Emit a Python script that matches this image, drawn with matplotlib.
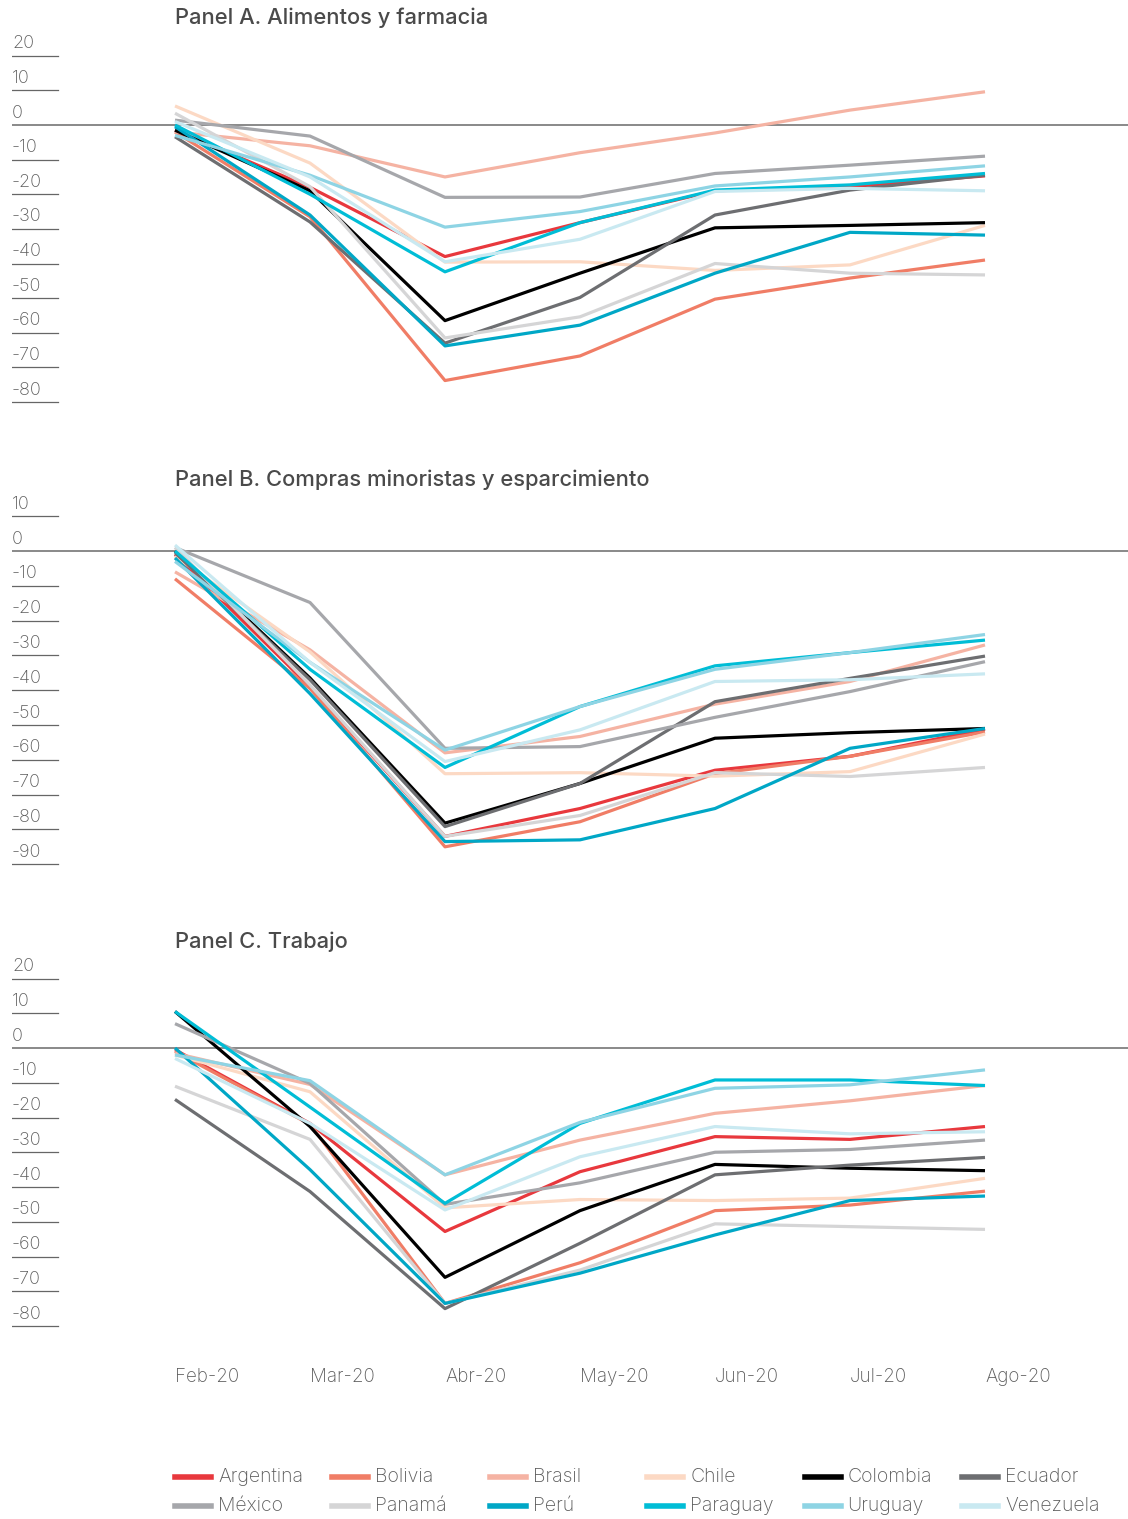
import matplotlib.pyplot as plt
from matplotlib.lines import Line2D

W, H = 1128, 1519

months = ['Feb-20', 'Mar-20', 'Abr-20', 'May-20', 'Jun-20', 'Jul-20', 'Ago-20']
countries = ['Argentina', 'Bolivia', 'Brasil', 'Chile', 'Colombia', 'Ecuador',
             'México', 'Panamá', 'Perú', 'Paraguay', 'Uruguay', 'Venezuela']
colors = ['#E8383D', '#F07D66', '#F5B3A3', '#FCD9C4', '#000000', '#6D6E71',
          '#A6A7AB', '#D5D5D6', '#00A7C6', '#00BDD6', '#8ED4E4', '#C9E9F1']

# Panel A. Alimentos y farmacia
panel_a = {
    'Argentina': [-1.5, -18, -38, -28.2, -19, -17.8, -14.7],
    'Bolivia':   [-2, -26.5, -73.8, -66.7, -50.3, -44.2, -39],
    'Brasil':    [-2, -6, -15, -8, -2.3, 4.3, 9.6],
    'Chile':     [5.5, -11, -39.6, -39.5, -42, -40.4, -29],
    'Colombia':  [-1.5, -19, -56.5, -42.8, -29.7, -29, -28.2],
    'Ecuador':   [-3.4, -28, -63, -49.8, -26, -18.8, -14.5],
    'México':    [1.4, -3.2, -20.9, -20.8, -14, -11.6, -9],
    'Panamá':    [3.4, -17.8, -61.5, -55.4, -40, -42.8, -43.3],
    'Perú':      [-0.5, -26, -63.8, -57.8, -42.8, -31, -31.8],
    'Paraguay':  [0, -20, -42.4, -28.2, -18.8, -17.3, -14],
    'Uruguay':   [-3, -14.5, -29.5, -25, -17.6, -15, -11.8],
    'Venezuela': [1, -15, -39.5, -33, -19.2, -18.3, -19],
}

# Panel B. Compras minoristas y esparcimiento
panel_b = {
    'Argentina': [-1, -39, -82, -74, -63, -59, -51.2],
    'Bolivia':   [-8, -39.5, -85, -77.8, -64, -59, -52],
    'Brasil':    [-6, -28.4, -58, -53.3, -44, -37.5, -27],
    'Chile':     [-1.5, -29, -64, -63.7, -64.7, -63.4, -52.6],
    'Colombia':  [0, -36.5, -78.2, -66.8, -53.8, -52.2, -51],
    'Ecuador':   [-0.5, -37, -79.2, -66.8, -43.3, -36.6, -30.2],
    'México':    [1, -14.8, -56.7, -56.2, -47.8, -40.4, -31.8],
    'Panamá':    [1, -38.5, -82, -76, -63.7, -64.8, -62.2],
    'Perú':      [-2, -41, -83.5, -83, -74, -56.7, -51],
    'Paraguay':  [0, -34, -62.2, -44.7, -33, -29.2, -25.6],
    'Uruguay':   [-3, -32, -57.2, -44.7, -34, -29.2, -24],
    'Venezuela': [1.7, -32, -60.5, -51.4, -37.5, -37, -35.3],
}

# Panel C. Trabajo
panel_c = {
    'Argentina': [-0.5, -21.7, -52.8, -35.6, -25.5, -26.3, -22.6],
    'Bolivia':   [-1, -22, -73.5, -61.8, -46.8, -45.2, -41.2],
    'Brasil':    [-1.5, -10.5, -36.5, -26.5, -18.8, -15.2, -10.8],
    'Chile':     [-2, -12.6, -46, -43.6, -43.9, -43.2, -37.5],
    'Colombia':  [10.5, -22.6, -66, -46.8, -33.5, -34.6, -35.3],
    'Ecuador':   [-14.8, -41.3, -75, -56.2, -36.5, -33.7, -31.5],
    'México':    [7, -10.2, -45, -38.8, -30, -29.2, -26.5],
    'Panamá':    [-11, -26.3, -73.5, -63.9, -50.6, -51.4, -52.2],
    'Perú':      [0, -35, -73.5, -64.8, -53.8, -43.9, -42.6],
    'Paraguay':  [10.5, -17, -44.7, -21.7, -9.2, -9.2, -10.8],
    'Uruguay':   [-2, -9.4, -36.5, -21.4, -11.6, -10.6, -6.3],
    'Venezuela': [-3, -21.7, -46.6, -31.3, -22.6, -24.7, -24.1],
}

ticks_a = [20, 10, 0, -10, -20, -30, -40, -50, -60, -70, -80]
ticks_b = [10, 0, -10, -20, -30, -40, -50, -60, -70, -80, -90]
ticks_c = [20, 10, 0, -10, -20, -30, -40, -50, -60, -70, -80]

plt.rcParams['font.family'] = ['Inter', 'DejaVu Sans']

fig = plt.figure(figsize=(W / 100, H / 100), dpi=100)

x0_px, x1_px = 12, 1128      # axes span in pixels
feb_px, step_px = 175, 135   # first category and spacing
txt_gray = '#5c5c5c'


def px_axes(top, bottom):
    return fig.add_axes([x0_px / W, 1 - bottom / H, (x1_px - x0_px) / W, (bottom - top) / H])


def draw_panel(data, ticks, top, bottom, zero_px, scale, title, title_y):
    ax = px_axes(top, bottom)
    ax.set_xlim(-(feb_px - x0_px) / step_px, 6 + (x1_px - 985) / step_px)
    ax.set_ylim((zero_px - bottom) / scale, (zero_px - top) / scale)
    ax.axis('off')
    tick_frac = (58 - x0_px) / (x1_px - x0_px)
    for t in ticks:
        if t == 0:
            ax.axhline(0, color='#808080', lw=1.3, zorder=1)
        else:
            ax.axhline(t, xmin=0, xmax=tick_frac, color='#666666', lw=0.9)
        ax.text(-(feb_px - x0_px) / step_px, t + 1.0, str(t), ha='left', va='bottom',
                fontsize=13, color=txt_gray, fontweight='light')
    for name, col in zip(countries, colors):
        ax.plot(range(len(months)), data[name], color=col, lw=2.3,
                solid_capstyle='butt', zorder=2)
    fig.text(feb_px / W, 1 - title_y / H, title, ha='left', va='center',
             fontsize=15.8, fontweight='medium', color='#4a4a4a')
    return ax


draw_panel(panel_a, ticks_a, 35, 415, 125, 3.4625, 'Panel A. Alimentos y farmacia', 18)
draw_panel(panel_b, ticks_b, 495, 875, 551, 3.48, 'Panel B. Compras minoristas y esparcimiento', 480)
draw_panel(panel_c, ticks_c, 955, 1340, 1048, 3.475, 'Panel C. Trabajo', 942)

# month labels
for i, m in enumerate(months):
    fig.text((feb_px + i * step_px) / W, 1 - 1377 / H, m, ha='left', va='center',
             fontsize=13.5, color=txt_gray, fontweight='light')

# legend, row by row
for i, (name, col) in enumerate(zip(countries, colors)):
    r, c = divmod(i, 6)
    xl = 175 + c * 157.4
    yl = 1 - (1477 + r * 29) / H
    fig.add_artist(Line2D([xl / W, (xl + 36) / W], [yl, yl], color=col, lw=4,
                          transform=fig.transFigure))
    fig.text((xl + 43) / W, yl, name, ha='left', va='center', fontsize=14,
             color=txt_gray, fontweight='light')

fig.savefig('out.png', dpi=100)
